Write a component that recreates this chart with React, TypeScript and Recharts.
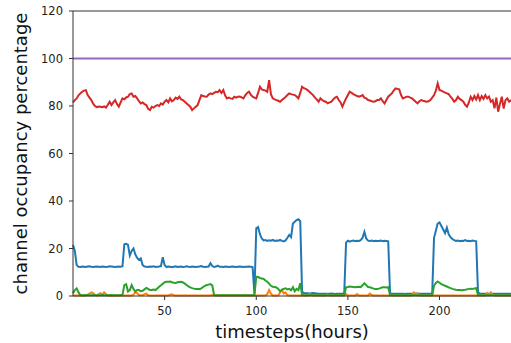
import React from 'react';
import { LineChart, Line, XAxis, YAxis, ReferenceLine } from 'recharts';

// hourly occupancy (%) per channel, hours 0..239
const blueSeries = [
  21.5, 19, 13, 12.3,
  12.2, 12.4, 12.3, 12.2, 12.4, 12.5, 12.3, 12.2, 12.3, 12.4, 12.3, 12.2, 12.4, 12.3, 12.2, 12.3, 12.5, 12.4, 12.3, 12.2, 12.3, 12.4, 12.3,
  12.5, 21.8, 22.0, 21.5, 17, 19, 20, 17.5, 16, 15.2, 15.8, 13, 12.4,
  12.3, 12.2, 12.4, 12.3, 12.5, 12.2, 12.3, 12.4,
  12.6, 16.3, 13, 12.2,
  12.4, 12.3, 12.1, 12.3, 12.5, 12.2, 12.3, 12.4, 12.2, 12.3, 12.5, 12.3, 12.2, 12.4, 12.3, 12.2, 12.3, 12.4, 12.6, 12.3, 12.2, 12.3, 12.4,
  13.8, 12.6, 12.2, 12.4, 12.8, 12.3,
  12.3, 12.2, 12.4, 12.3, 12.2, 12.3, 12.4, 12.3, 12.2, 12.3, 12.4, 12.3, 12.2, 12.3, 12.3, 12.4, 12.3,
  12.2, 1.0, 28.5, 29, 26, 24.2, 23.4, 23.6, 23.2, 23.5, 23.3, 23.6, 23.2, 23.4, 23.3, 23.6, 23.2, 23.0, 23.4, 24.5, 25.7, 24.8, 30.5, 31.3, 32.0, 32.3, 31.5, 1.8,
  1.3, 1.2, 1.2, 1.1, 1.2, 1.3, 1.2, 1.1, 1.0, 0.9, 0.9, 1.0, 1.0, 0.9, 0.9, 1.0, 0.9, 0.8, 0.9, 0.9, 1.0, 1.0,
  1.2, 22.5, 23.3, 22.9,
  23.2, 23.4, 23.1, 23.3, 23.2, 23.5,
  24.5, 27.0, 24.2, 23.3,
  23.2, 23.4, 23.1, 23.3, 23.2, 23.2, 23.4, 23.1, 23.3, 23.2,
  23.0, 1.2,
  1.0, 1.0, 0.9, 0.9, 1.0, 1.0, 0.9, 0.8, 0.9, 1.0, 1.0, 0.9, 0.9, 1.0, 0.9, 1.0, 1.0, 0.9, 0.9, 1.0, 1.0, 0.9, 1.0,
  24.5, 27.5, 30.5, 31.0, 29.5, 28.0, 26.5, 28.8, 26.0, 24.8, 24.0, 23.5,
  23.2, 23.4, 23.1, 23.3, 23.2, 23.5, 23.2, 23.3, 23.1, 23.4, 23.2,
  23.0, 1.5,
  1.0, 0.9, 0.9, 1.0, 1.0, 0.9, 1.0, 0.9, 0.9, 1.0, 1.0, 0.9, 0.9, 1.0, 1.0, 0.9, 0.9, 1.0,
];

const orangeSeries = [
  0.2, 0.2, 0.2, 0.2, 0.2, 0.2, 0.2, 0.3, 0.6, 1.0, 1.5, 1.2, 0.4, 0.2, 0.8, 1.2, 0.5, 1.6, 0.8, 0.2,
  0.2, 0.2, 0.2, 0.2, 0.2, 0.2, 0.2, 0.2, 0.2, 0.2, 0.2, 0.2, 0.2, 0.6, 1.6, 1.2, 0.4, 0.3, 0.3, 0.8,
  1.0, 0.3, 0.2, 0.2, 0.2, 0.2, 0.2, 0.2, 0.2, 0.2, 0.2, 0.2, 0.2, 0.5, 0.7, 0.3, 0.2, 0.2, 0.2, 0.2,
  0.2, 0.2, 0.2, 0.2, 0.2, 0.2, 0.2, 0.2, 0.2, 0.2, 0.2, 0.2, 0.2, 0.2, 0.2, 0.2, 0.4, 0.2, 0.2, 0.2,
  0.2, 0.2, 0.2, 0.2, 0.2, 0.2, 0.2, 0.2, 0.2, 0.2, 0.2, 0.2, 0.2, 0.2, 0.2, 0.2, 0.2, 0.2, 0.2, 0.2,
  0.2, 0.2, 0.2, 0.2, 0.2, 0.2, 0.8, 2.5, 1.0, 0.2, 0.2, 0.2, 0.2, 1.5, 2.6, 1.0, 1.5, 0.3, 0.2, 0.2,
  0.2, 0.2, 0.2, 0.2, 0.2, 0.2, 0.2, 0.2, 0.2, 0.8, 0.6, 0.2, 0.2, 0.2, 0.2, 0.2, 0.2, 0.2, 0.2, 0.7,
  0.2, 0.2, 0.2, 0.2, 0.2, 0.2, 0.2, 0.2, 0.2, 0.8, 0.2, 0.2, 0.2, 0.2, 0.2, 0.8, 0.2, 0.2, 0.2, 0.2,
  0.2, 0.2, 1.0, 0.4, 0.2, 0.2, 0.2, 0.2, 0.2, 0.2, 0.2, 0.2, 0.2, 0.2, 0.2, 0.2, 0.2, 0.2, 0.2, 0.2,
  0.2, 0.2, 0.2, 0.2, 0.2, 0.4, 1.5, 0.6, 1.2, 0.3, 0.2, 0.2, 0.2, 0.2, 0.2, 0.2, 0.2, 0.2, 0.2, 0.2,
  0.2, 0.2, 0.2, 0.2, 0.2, 0.2, 0.2, 0.2, 0.2, 0.2, 0.2, 0.2, 0.2, 0.2, 0.2, 0.2, 0.2, 0.2, 0.2, 0.2,
  0.2, 0.2, 0.2, 0.2, 0.2, 0.2, 1.2, 0.4, 1.5, 0.6, 0.2, 0.2, 0.2, 0.2, 0.2, 0.2, 0.2, 0.2, 0.2, 0.2,
];

const greenSeries = [
  1.2, 2.5, 3.2, 1.5,
  0.4, 0.3, 0.3, 0.4, 0.3, 0.3, 0.3, 0.4, 0.3, 0.3, 0.3, 0.3, 0.4, 0.3, 0.3, 0.3, 0.3, 0.4, 0.3, 0.3, 0.3, 0.3, 0.3,
  0.5, 4.6, 5.0, 1.9, 2.5, 4.6, 3.0, 1.9, 2.5, 2.5, 2.0, 2.2, 2.8,
  3.4, 3.0, 2.5, 2.5, 2.7, 2.5, 3.2, 3.9,
  4.5, 5.2, 5.8, 6.0,
  6.0, 6.1, 5.8, 5.6, 5.5, 5.8, 5.9, 6.0, 5.7, 5.2, 4.6, 4.0, 3.6, 3.3, 3.1, 3.0, 3.0, 2.9, 3.2, 3.8, 4.3, 4.6, 4.8,
  5.0, 4.5, 0.4, 0.3, 0.3, 0.3,
  0.3, 0.3, 0.3, 0.3, 0.3, 0.3, 0.3, 0.3, 0.3, 0.3, 0.3, 0.3, 0.3, 0.3, 0.3, 0.3, 0.3,
  0.3, 0.4, 8.1, 8.0, 7.6, 7.4, 7.2, 6.5, 6.0, 5.2, 4.3, 3.9, 3.8, 3.6, 3.0, 2.0, 2.6, 3.0, 3.2, 2.8, 3.0, 2.4, 3.7, 2.0, 3.0, 2.5, 5.4, 0.4,
  0.3, 0.3, 0.3, 0.3, 0.3, 0.3, 0.3, 0.3, 0.3, 0.3, 0.3, 0.3, 0.3, 0.3, 0.3, 0.3, 0.3, 0.3, 0.3, 0.3, 0.3, 0.3,
  0.4, 3.7, 3.8, 4.0,
  3.9, 3.8, 3.7, 3.8, 3.9, 3.7,
  4.5, 5.4, 4.6, 3.8,
  3.7, 3.4, 3.1, 2.9, 2.9, 3.1, 3.4, 3.7, 3.7, 3.6,
  3.7, 0.4,
  0.3, 0.3, 0.3, 0.3, 0.3, 0.3, 0.3, 0.3, 0.3, 0.3, 0.3, 0.3, 0.3, 0.3, 0.3, 0.3, 0.3, 0.3, 0.3, 0.3, 0.3, 0.3, 0.3,
  4.3, 5.5, 6.1, 5.6, 5.0, 4.7, 4.3, 4.0, 3.6, 3.3, 3.0, 2.8,
  2.6, 2.5, 2.5, 2.4, 2.5, 2.6, 2.8, 3.0, 3.1, 3.0, 3.2,
  3.3, 0.4,
  0.3, 0.3, 0.3, 0.3, 0.3, 0.3, 0.3, 0.3, 0.3, 0.3, 0.3, 0.3, 0.3, 0.3, 0.3, 0.3, 0.3, 0.3,
];

const redSeries = [
  81.5, 82.5, 83.2, 84.5, 85.3, 86.0, 86.5, 86.7, 84.6, 83.5, 82.5, 81.0, 80.0, 79.5, 79.8, 79.7, 79.5, 79.8, 79.3, 80.5,
  81.8, 80.4, 81.5, 82.5, 80.8, 79.7, 81.5, 83.2, 82.8, 83.6, 83.9, 85.0, 85.3, 83.9, 84.2, 83.2, 82.0, 81.1, 81.5, 80.8,
  80.4, 78.8, 78.3, 79.7, 79.3, 80.0, 80.4, 80.0, 81.1, 80.6, 81.8, 82.5, 81.5, 83.2, 82.0, 82.5, 83.5, 83.0, 83.9, 82.8,
  82.5, 81.8, 81.1, 80.4, 79.7, 78.3, 79.0, 79.7, 80.4, 82.5, 84.6, 84.2, 84.0, 83.9, 84.8, 85.3, 85.0, 85.5, 86.0, 85.8,
  86.7, 85.5, 86.7, 84.5, 83.2, 83.5, 83.2, 83.0, 83.9, 83.5, 83.9, 84.0, 83.6, 83.2, 84.5, 85.5, 86.0, 84.8, 83.9, 83.5,
  83.2, 85.5, 88.1, 87.0, 86.7, 86.5, 86.0, 90.9, 85.0, 83.2, 82.8, 82.5, 82.2, 81.8, 82.5, 83.2, 83.8, 84.6, 85.3, 85.0,
  84.8, 84.6, 84.0, 83.2, 85.5, 88.1, 87.5, 87.2, 86.7, 86.0, 85.3, 84.6, 83.5, 82.8, 81.8, 83.2, 82.5, 82.0, 81.8, 81.1,
  81.5, 81.8, 82.8, 83.5, 83.9, 82.5, 81.5, 79.7, 81.5, 83.2, 84.6, 86.0, 85.5, 85.0, 84.6, 84.2, 83.9, 84.2, 84.6, 83.5,
  83.2, 82.5, 82.3, 82.0, 81.8, 82.0, 82.5, 82.5, 83.2, 82.0, 81.1, 82.5, 83.9, 84.6, 85.3, 86.5, 87.4, 87.2, 87.0, 84.6,
  83.2, 83.5, 83.9, 83.9, 83.5, 83.2, 82.5, 81.8, 81.1, 82.0, 82.5, 82.2, 82.0, 81.8, 82.0, 82.5, 83.5, 84.6, 86.5, 89.5,
  86.7, 86.5, 86.0, 85.6, 85.3, 85.0, 83.9, 83.0, 81.8, 82.5, 83.9, 83.0, 82.5, 81.8, 80.5, 79.7, 81.5, 83.9, 82.5, 84.2,
  82.8, 84.6, 82.5, 84.2, 83.0, 84.6, 83.2, 84.0, 81.8, 82.5, 79.0, 83.5, 77.6, 81.0, 83.9, 78.9, 82.5, 83.2, 81.8, 82.5,
];

const FULL_LOAD = 100; // the purple channel sits flat at 100%

const xTicks = [50, 100, 150, 200];
const yTicks = [0, 20, 40, 60, 80, 100, 120];

const rows = redSeries.map((v, i) => ({
  hour: i,
  ch1: blueSeries[i],
  ch2: orangeSeries[i],
  ch3: greenSeries[i],
  ch4: v,
  ch5: FULL_LOAD,
}));

const tickStyle = { fontSize: 11.5, fill: '#222' };

export default function App() {
  return (
    <div
      style={{
        position: 'absolute',
        left: 0,
        top: 0,
        width: 511,
        height: 343,
        background: '#fff',
        fontFamily: '"DejaVu Sans", sans-serif',
      }}
    >
      <LineChart width={511} height={343} data={rows} margin={{ top: 11, right: 0, bottom: 0, left: 0 }}>
        <XAxis
          dataKey="hour"
          type="number"
          domain={[0, 239]}
          ticks={xTicks}
          height={47}
          tickSize={4}
          tickMargin={7}
          stroke="#333"
          tick={tickStyle}
          label={{ value: 'timesteps(hours)', position: 'insideBottom', offset: 5, style: { fontSize: 18, fill: '#111' } }}
        />
        <YAxis
          type="number"
          domain={[0, 120]}
          ticks={yTicks}
          width={73}
          tickSize={4}
          tickMargin={6}
          stroke="#333"
          tick={tickStyle}
          label={{
            value: 'channel occupancy percentage',
            angle: -90,
            position: 'insideLeft',
            offset: 21,
            style: { textAnchor: 'middle', fontSize: 18, fill: '#111' },
          }}
        />
        <ReferenceLine y={120} stroke="#333" />
        <Line type="linear" dataKey="ch1" stroke="#1f77b4" strokeWidth={2} dot={false} isAnimationActive={false} />
        <Line type="linear" dataKey="ch2" stroke="#ff7f0e" strokeWidth={2} dot={false} isAnimationActive={false} />
        <Line type="linear" dataKey="ch3" stroke="#2ca02c" strokeWidth={2} dot={false} isAnimationActive={false} />
        <Line type="linear" dataKey="ch4" stroke="#d62728" strokeWidth={2} dot={false} isAnimationActive={false} />
        <Line type="linear" dataKey="ch5" stroke="#9467bd" strokeWidth={2} dot={false} isAnimationActive={false} />
      </LineChart>
    </div>
  );
}
